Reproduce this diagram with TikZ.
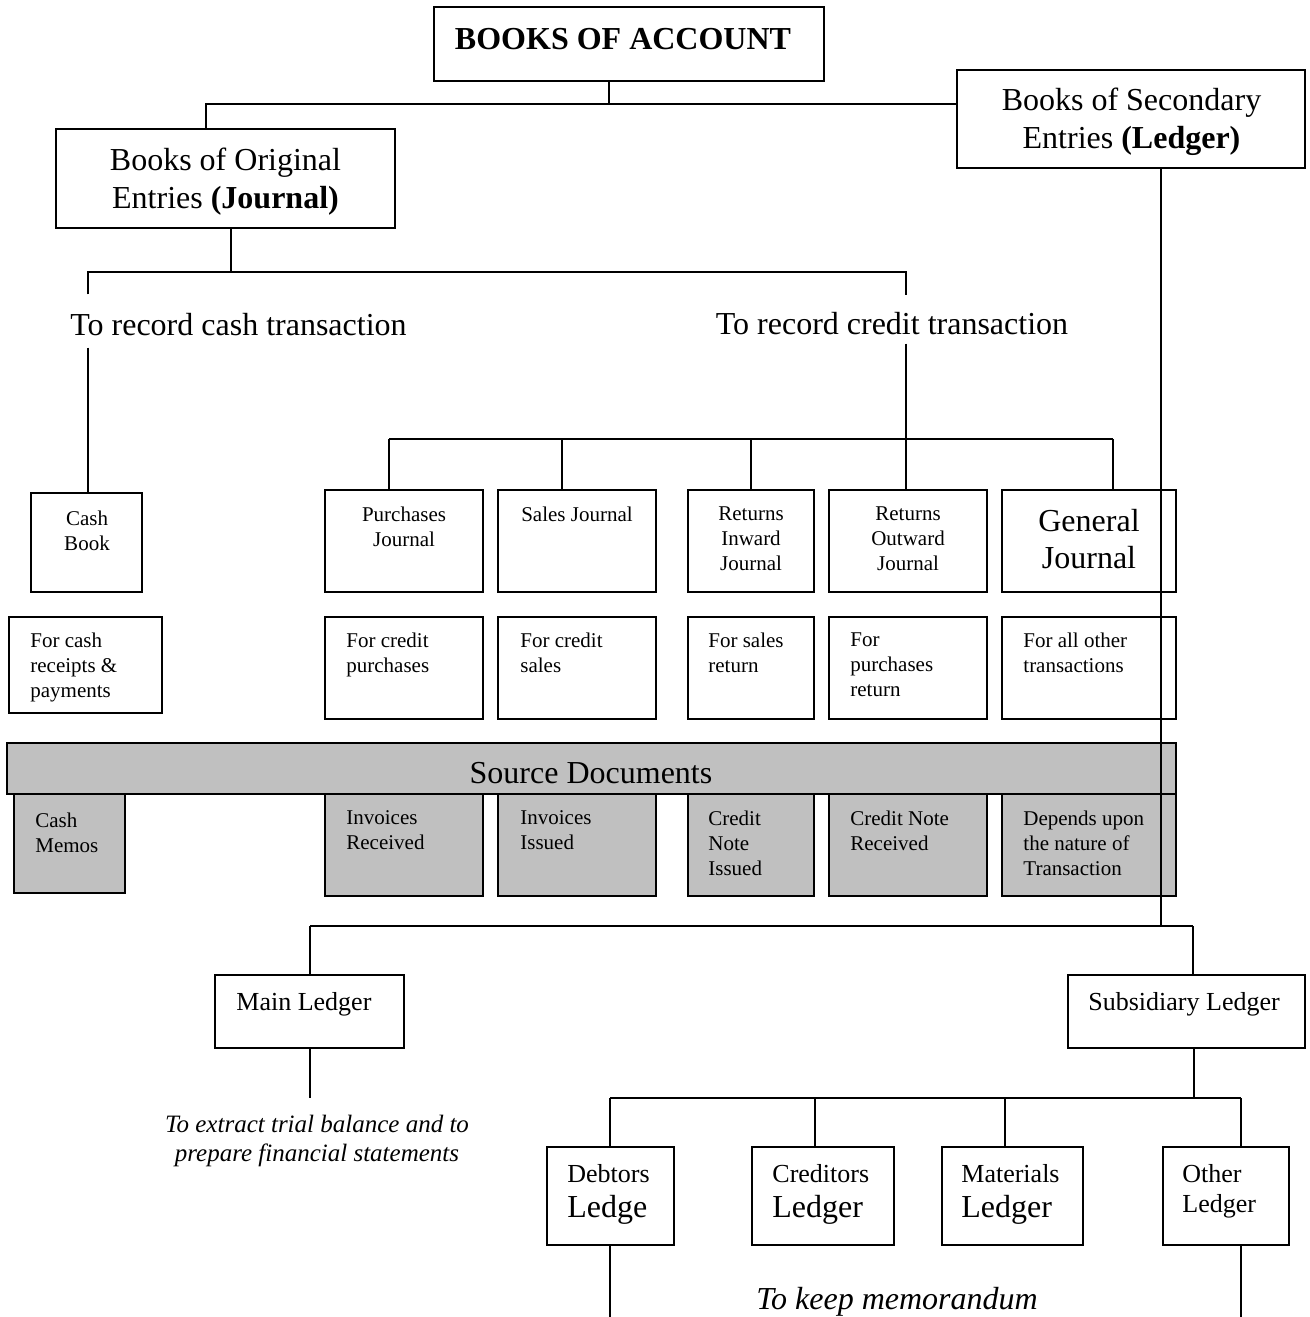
\documentclass[tikz,border=0pt]{standalone}
\usepackage{fontspec}
\setmainfont{Liberation Serif}
\definecolor{srcgray}{RGB}{192,192,192}

\begin{document}
\begin{tikzpicture}[x=0.5pt,y=-0.5pt,
    box/.style={draw, line width=1pt, inner sep=0pt},
    gbox/.style={box, fill=srcgray},
    sm/.style={inner sep=0pt, font=\fontsize{10.5}{12.5}\selectfont},
    md/.style={inner sep=0pt, font=\fontsize{13}{16}\selectfont},
    lg/.style={inner sep=0pt, font=\fontsize{16}{19}\selectfont},
    line/.style={line width=1pt}]
    \useasboundingbox (0,0) rectangle (1310,1317);
    \clip (0,0) rectangle (1310,1317);

    % top level
    \node[box, minimum width=195pt, minimum height=37pt] (acc) at (629,44) {};
    \node[lg, anchor=base] (accT) at (623,49) {\textbf{BOOKS OF ACCOUNT}};
    \node[box, minimum width=169.5pt, minimum height=49.5pt] (orig) at (225.5,178.5) {};
    \node[lg, align=center, anchor=north] (origT) at (225.5,148) {Books of Original\\Entries \textbf{(Journal)}};
    \node[box, minimum width=174pt, minimum height=49pt] (sec) at (1131,119) {};
    \node[lg, align=center, anchor=north] (secT) at (1131.5,88) {Books of Secondary\\Entries \textbf{(Ledger)}};

    \coordinate (jt) at (609,104);
    \coordinate (jl) at (206,104);
    \draw[line] (acc.south -| jt) -- (jt);
    \draw[line] (orig.north -| jl) -- (jl) -- (jl -| sec.west);

    % cash / credit
    \node[lg, anchor=base] (cashtr) at (238.5,335) {To record cash transaction};
    \node[lg, anchor=base] (credtr) at (892,334) {To record credit transaction};
    \coordinate (jo) at (231,272);
    \coordinate (bl) at (88,272);
    \coordinate (br) at (906,272);
    \draw[line] (orig.south -| jo) -- (jo);
    \draw[line] (bl |- cashtr.north) ++(0,-18) -- (bl) -- (br) -- ++(0,23);

    % journals
    \node[box, minimum width=55.5pt, minimum height=49.5pt] (cashbook) at (86.5,542.5) {};
    \foreach \n/\x/\w in {purch/404/79, sales/577/79, retin/751/63, retout/908/79, gen/1089/87}
        \node[box, minimum width=\w*1pt, minimum height=51pt] (\n) at (\x,541) {};
    \node[sm, align=center, anchor=north] (cashbookT) at (87,510.5) {Cash\\Book};
    \node[sm, align=center, anchor=north] (purchT) at (404,506.5) {Purchases\\Journal};
    \node[sm, anchor=base] (salesT) at (577,521) {Sales Journal};
    \node[sm, align=center, anchor=north] (retinT) at (751,506.5) {Returns\\Inward\\Journal};
    \node[sm, align=center, anchor=north] (retoutT) at (908,506.5) {Returns\\Outward\\Journal};
    \node[inner sep=0pt, font=\fontsize{16}{18.5}\selectfont, align=center, anchor=north] (genT) at (1089,509) {General\\Journal};

    \draw[line, shorten <=6pt] (cashtr.south -| bl) -- (cashbook.north -| bl);
    \draw[line, shorten <=4.5pt] (credtr.south -| br) -- (retout.north -| br);
    \draw[line] (389,439) -- (1113,439);
    \foreach \n/\x in {purch/389, sales/562, retin/751, gen/1113}
        \draw[line] (\x,439) -- (\n.north -| \x,0);

    % what each journal is for
    \node[box, minimum width=76.5pt, minimum height=48pt] (forcash) at (85.5,665) {};
    \foreach \n/\x/\w in {forpurch/404/79, forsales/577/79, forsret/751/63, forpret/908/79, forother/1089/87}
        \node[box, minimum width=\w*1pt, minimum height=51pt] (\n) at (\x,668) {};
    \node[sm, align=left, anchor=north west] (forcashT) at (30,632.5) {For cash\\receipts \&\\payments};
    \node[sm, align=left, anchor=north west] (forpurchT) at (346,632.5) {For credit\\purchases};
    \node[sm, align=left, anchor=north west] (forsalesT) at (520,632.5) {For credit\\sales};
    \node[sm, align=left, anchor=north west] (forsretT) at (708,632.5) {For sales\\return};
    \node[sm, align=left, anchor=north west] (forpretT) at (850,632.5) {For\\purchases\\return};
    \node[sm, align=left, anchor=north west] (forotherT) at (1023,632.5) {For all other\\transactions};

    % source documents
    \node[gbox, minimum width=584.5pt, minimum height=25.5pt] (src) at (591.5,768.5) {};
    \node[lg, anchor=base] (srcT) at (591,783) {Source Documents};
    \node[gbox, minimum width=55.5pt, minimum height=49.5pt] (memos) at (69.5,843.5) {};
    \foreach \n/\x/\w in {invrec/404/79, inviss/577/79, cni/751/63, cnr/908/79, dep/1089/87}
        \node[gbox, minimum width=\w*1pt, minimum height=51pt] (\n) at (\x,845) {};
    \node[sm, align=left, anchor=north west] (memosT) at (35,812.5) {Cash\\Memos};
    \node[sm, align=left, anchor=north west] (invrecT) at (346,810.5) {Invoices\\Received};
    \node[sm, align=left, anchor=north west] (invissT) at (520,810.5) {Invoices\\Issued};
    \node[sm, align=left, anchor=north west] (cniT) at (708,810.5) {Credit\\Note\\Issued};
    \node[sm, align=left, anchor=north west] (cnrT) at (850,810.5) {Credit Note\\Received};
    \node[sm, align=left, anchor=north west] (depT) at (1023,810.5) {Depends upon\\the nature of\\Transaction};

    % ledger
    \node[box, minimum width=94.5pt, minimum height=36.5pt] (mainl) at (309.5,1011.5) {};
    \node[box, minimum width=118.5pt, minimum height=36.5pt] (subl) at (1186.5,1011.5) {};
    \node[md, anchor=base west] (mainlT) at (236,1010) {Main Ledger};
    \node[md, anchor=base west] (sublT) at (1088,1010) {Subsidiary Ledger};
    \coordinate (jm) at (310,926);
    \coordinate (js) at (1193,926);
    \draw[line] (sec.south -| 1161,0) -- (1161,926);
    \draw[line] (jm) -- (js);
    \draw[line] (jm) -- (mainl.north -| jm);
    \draw[line] (js) -- (subl.north -| js);

    \coordinate (je) at (310,1098);
    \draw[line] (mainl.south -| je) -- (je);
    \node[inner sep=0pt, font=\fontsize{12.5}{14.5}\selectfont\itshape, align=center, anchor=north] (extractT) at (317,1115) {To extract trial balance and to\\prepare financial statements};

    \node[box, minimum width=63.5pt, minimum height=49pt] (debt) at (610,1196) {};
    \node[box, minimum width=71pt, minimum height=49pt] (cred) at (823,1196) {};
    \node[box, minimum width=70.5pt, minimum height=49pt] (mat) at (1012.5,1196) {};
    \node[box, minimum width=63pt, minimum height=49pt] (oth) at (1226,1196) {};
    \node[inner sep=0pt, font=\fontsize{13}{17.5}\selectfont, align=left, anchor=north west] (debtT) at (567,1164) {Debtors\\{\fontsize{16}{17.5}\selectfont Ledge}};
    \node[inner sep=0pt, font=\fontsize{13}{17.5}\selectfont, align=left, anchor=north west] (credT) at (772,1164) {Creditors\\{\fontsize{16}{17.5}\selectfont Ledger}};
    \node[inner sep=0pt, font=\fontsize{13}{17.5}\selectfont, align=left, anchor=north west] (matT) at (961,1164) {Materials\\{\fontsize{16}{17.5}\selectfont Ledger}};
    \node[inner sep=0pt, font=\fontsize{13}{15}\selectfont, align=left, anchor=north west] (othT) at (1182,1164) {Other\\Ledger};

    \coordinate (jd) at (1194,1098);
    \draw[line] (subl.south -| jd) -- (jd);
    \draw[line] (610,1098) -- (1241,1098);
    \foreach \n/\x in {debt/610, cred/815, mat/1005, oth/1241}
        \draw[line] (\x,1098) -- (\n.north -| \x,0);
    \draw[line] (debt.south) -- (610,1317);
    \draw[line] (oth.south -| 1241,0) -- (1241,1317);
    \node[inner sep=0pt, font=\fontsize{16}{19}\selectfont\itshape, anchor=base] (keepT) at (897,1309) {To keep memorandum};
\end{tikzpicture}
\end{document}
